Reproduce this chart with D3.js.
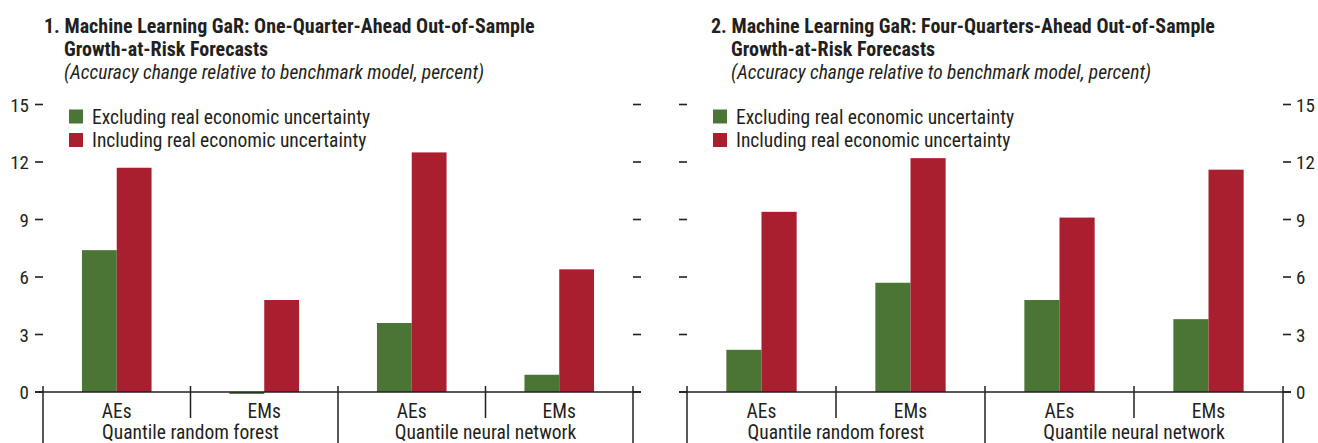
<!DOCTYPE html>
<html>
<head>
<meta charset="utf-8">
<script src="https://cdn.jsdelivr.net/npm/d3@7"></script>
<style>
  body { margin: 0; background: #fff; }
  svg text { font-family: "Liberation Sans Narrow", "Roboto Condensed", "Arial Narrow", Roboto, sans-serif; fill: #231f20; }
</style>
</head>
<body>
<svg id="chart"></svg>
<script>
const models = ["Quantile random forest", "Quantile neural network"];
const regions = ["AEs", "EMs"];
const seriesNames = ["Excluding real economic uncertainty", "Including real economic uncertainty"];
const seriesColors = ["#4b7534", "#a91f2f"];
const yTicks = [0, 3, 6, 9, 12, 15];

// panel 1: one-quarter-ahead
const oneQtrExcluding = [7.4, -0.1, 3.6, 0.9];
const oneQtrIncluding = [11.7, 4.8, 12.5, 6.4];
// panel 2: four-quarters-ahead
const fourQtrExcluding = [2.2, 5.7, 4.8, 3.8];
const fourQtrIncluding = [9.4, 12.2, 9.1, 11.6];

const width = 1318,
  height = 443,
  plotTop = 104.5,
  zero = 392;

const svg = d3.select("#chart").attr("width", width).attr("height", height);

const categories = [];
models.forEach(m => regions.forEach(r => categories.push(m + "|" + r)));

function drawPanel(opts) {
  const g = svg.append("g");

  const x0 = d3
    .scaleBand()
    .domain(categories)
    .range([opts.left, opts.right]);
  const x1 = d3
    .scaleBand()
    .domain(seriesNames)
    .range([0, x0.bandwidth()])
    .paddingOuter(1.12);
  const y = d3.scaleLinear().domain([0, 15]).range([zero, plotTop]);

  // title block
  const title = g
    .append("text")
    .attr("x", opts.titleX)
    .attr("y", 33)
    .style("font-size", "20px")
    .style("font-weight", "bold");
  title.append("tspan").text(opts.title[0]);
  title
    .append("tspan")
    .attr("x", opts.titleX + 20)
    .attr("dy", 23)
    .text(opts.title[1]);
  g.append("text")
    .attr("x", opts.titleX + 20)
    .attr("y", 79)
    .style("font-size", "19.5px")
    .style("font-style", "italic")
    .text("(Accuracy change relative to benchmark model, percent)");

  // y ticks on both sides, labels on one
  yTicks.forEach(t => {
    g.append("line")
      .attr("x1", opts.left - 8)
      .attr("x2", opts.left)
      .attr("y1", y(t))
      .attr("y2", y(t))
      .attr("stroke", "#231f20")
      .attr("stroke-width", 1.6);
    g.append("line")
      .attr("x1", opts.right)
      .attr("x2", opts.right + 8)
      .attr("y1", y(t))
      .attr("y2", y(t))
      .attr("stroke", "#231f20")
      .attr("stroke-width", 1.6);
  });
  g.selectAll(".ylab")
    .data(yTicks)
    .enter()
    .append("text")
    .attr("class", "ylab")
    .attr("x", opts.labelSide === "left" ? opts.left - 14 : opts.right + 13)
    .attr("y", d => y(d) + 7)
    .attr("text-anchor", opts.labelSide === "left" ? "end" : "start")
    .style("font-size", "19px")
    .text(d => d);

  // bars
  const groups = g
    .selectAll(".cat")
    .data(categories)
    .enter()
    .append("g")
    .attr("class", "cat")
    .attr("transform", d => "translate(" + x0(d) + ",0)");

  groups
    .selectAll("rect")
    .data((d, i) => seriesNames.map((s, j) => ({ s: s, v: opts.values[j][i], c: seriesColors[j] })))
    .enter()
    .append("rect")
    .attr("x", d => x1(d.s))
    .attr("width", x1.bandwidth())
    .attr("y", d => y(Math.max(0, d.v)))
    .attr("height", d => Math.abs(y(d.v) - y(0)))
    .attr("fill", d => d.c);

  // zero line
  g.append("line")
    .attr("x1", opts.left - 8)
    .attr("x2", opts.right + 8)
    .attr("y1", zero)
    .attr("y2", zero)
    .attr("stroke", "#231f20")
    .attr("stroke-width", 1.6);

  // category dividers
  const edges = categories.map(c => x0(c)).concat([opts.right]);
  edges.forEach((e, i) => {
    g.append("line")
      .attr("x1", e)
      .attr("x2", e)
      .attr("y1", 386)
      .attr("y2", i % 2 === 0 ? height : 418)
      .attr("stroke", "#231f20")
      .attr("stroke-width", 1.5);
  });

  // category labels
  g.selectAll(".reg")
    .data(categories)
    .enter()
    .append("text")
    .attr("class", "reg")
    .attr("x", d => x0(d) + x0.bandwidth() / 2)
    .attr("y", 418)
    .attr("text-anchor", "middle")
    .style("font-size", "19.5px")
    .text(d => d.split("|")[1]);

  g.selectAll(".model")
    .data(models)
    .enter()
    .append("text")
    .attr("class", "model")
    .attr("x", (d, i) => x0(categories[i * 2]) + x0.bandwidth())
    .attr("y", 439)
    .attr("text-anchor", "middle")
    .style("font-size", "19.5px")
    .text(d => d);

  // legend
  const legend = g
    .selectAll(".legend")
    .data(seriesNames)
    .enter()
    .append("g")
    .attr("class", "legend")
    .attr("transform", (d, i) => "translate(" + (opts.left + 26) + "," + (109.5 + i * 23.5) + ")");
  legend
    .append("rect")
    .attr("width", 14)
    .attr("height", 14)
    .attr("fill", (d, i) => seriesColors[i]);
  legend
    .append("text")
    .attr("x", 23)
    .attr("y", 14)
    .style("font-size", "19.5px")
    .text(d => d);
}

drawPanel({
  left: 43,
  right: 633,
  titleX: 44,
  labelSide: "left",
  title: ["1. Machine Learning GaR: One-Quarter-Ahead Out-of-Sample", "Growth-at-Risk Forecasts"],
  values: [oneQtrExcluding, oneQtrIncluding]
});

drawPanel({
  left: 687,
  right: 1283,
  titleX: 711,
  labelSide: "right",
  title: ["2. Machine Learning GaR: Four-Quarters-Ahead Out-of-Sample", "Growth-at-Risk Forecasts"],
  values: [fourQtrExcluding, fourQtrIncluding]
});
</script>
</body>
</html>
